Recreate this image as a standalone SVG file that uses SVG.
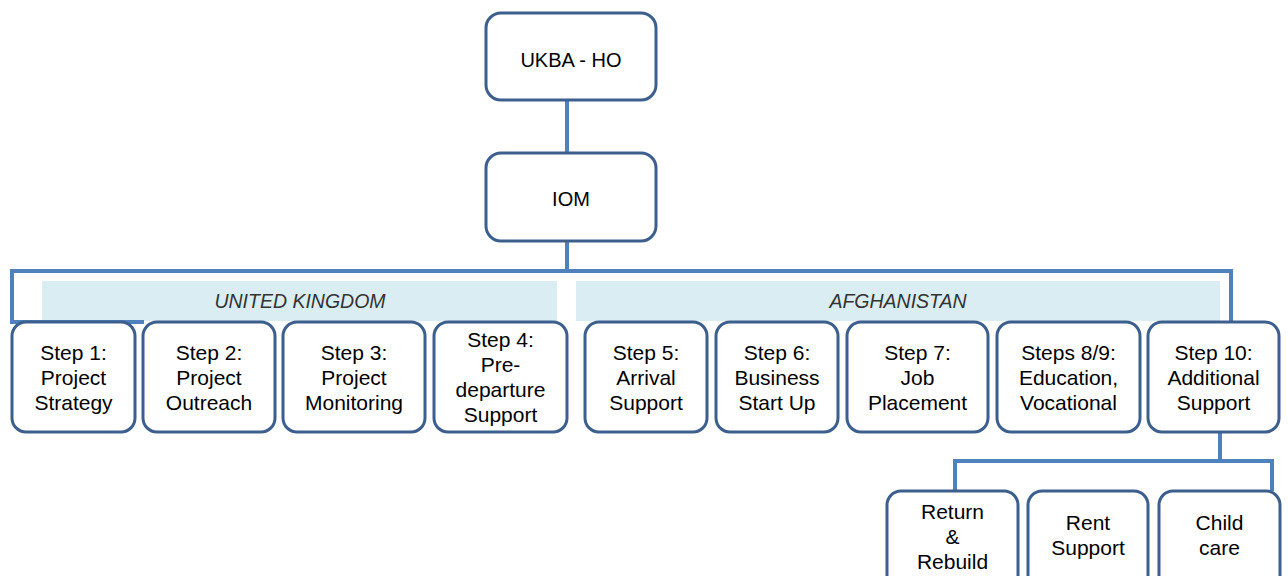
<svg xmlns="http://www.w3.org/2000/svg" width="1288" height="576" viewBox="0 0 1288 576">
<style>
.box{fill:#fff;stroke:#3D5F8D;stroke-width:3}
.con{fill:none;stroke:#4F81BD;stroke-width:4}
.band{fill:#DAEDF3}
.t{font-family:"Liberation Sans",Arial,sans-serif;font-size:21px;fill:#000;text-anchor:middle}
.tt{font-family:"Liberation Sans",Arial,sans-serif;font-size:20px;fill:#000;text-anchor:middle}
.lab{font-family:"Liberation Sans",Arial,sans-serif;font-size:19.5px;font-style:italic;fill:#333;text-anchor:middle}
</style>
<rect width="1288" height="576" fill="#fff"/>
<g id="bands">
<rect class="band" x="42" y="281" width="515" height="40"/>
<text class="lab" x="300" y="308">UNITED KINGDOM</text>
<rect class="band" x="576" y="281" width="644" height="40"/>
<text class="lab" x="898" y="308">AFGHANISTAN</text>
</g>
<g id="connectors">
<path class="con" d="M567,100 V152"/>
<path class="con" d="M567,241 V271"/>
<path class="con" d="M144,322 H12 V271 H1231 V322"/>
<path class="con" d="M1220,432 V461"/>
<path class="con" d="M955,491 V461 H1272 V491"/>
</g>
<g id="ukba"><rect class="box" x="486" y="13" width="170" height="87" rx="15"/><text class="tt" x="571" y="67">UKBA - HO</text></g>
<g id="iom"><rect class="box" x="486" y="153" width="170" height="88" rx="15"/><text class="tt" x="571" y="206">IOM</text></g>
<g id="step1"><rect class="box" x="12" y="322" width="123" height="110" rx="14"/><text class="t" x="73.5" y="360">Step 1:</text><text class="t" x="73.5" y="385">Project</text><text class="t" x="73.5" y="410">Strategy</text></g>
<g id="step2"><rect class="box" x="143" y="322" width="132" height="110" rx="14"/><text class="t" x="209" y="360">Step 2:</text><text class="t" x="209" y="385">Project</text><text class="t" x="209" y="410">Outreach</text></g>
<g id="step3"><rect class="box" x="283" y="322" width="142" height="110" rx="14"/><text class="t" x="354" y="360">Step 3:</text><text class="t" x="354" y="385">Project</text><text class="t" x="354" y="410">Monitoring</text></g>
<g id="step4"><rect class="box" x="434" y="322" width="133" height="110" rx="14"/><text class="t" x="500.5" y="347">Step 4:</text><text class="t" x="500.5" y="372">Pre-</text><text class="t" x="500.5" y="397">departure</text><text class="t" x="500.5" y="422">Support</text></g>
<g id="step5"><rect class="box" x="585" y="322" width="122" height="110" rx="14"/><text class="t" x="646" y="360">Step 5:</text><text class="t" x="646" y="385">Arrival</text><text class="t" x="646" y="410">Support</text></g>
<g id="step6"><rect class="box" x="716" y="322" width="122" height="110" rx="14"/><text class="t" x="777" y="360">Step 6:</text><text class="t" x="777" y="385">Business</text><text class="t" x="777" y="410">Start Up</text></g>
<g id="step7"><rect class="box" x="847" y="322" width="141" height="110" rx="14"/><text class="t" x="917.5" y="360">Step 7:</text><text class="t" x="917.5" y="385">Job</text><text class="t" x="917.5" y="410">Placement</text></g>
<g id="step89"><rect class="box" x="997" y="322" width="143" height="110" rx="14"/><text class="t" x="1068.5" y="360">Steps 8/9:</text><text class="t" x="1068.5" y="385">Education,</text><text class="t" x="1068.5" y="410">Vocational</text></g>
<g id="step10"><rect class="box" x="1148" y="322" width="131" height="110" rx="14"/><text class="t" x="1213.5" y="360">Step 10:</text><text class="t" x="1213.5" y="385">Additional</text><text class="t" x="1213.5" y="410">Support</text></g>
<g id="return"><rect class="box" x="887" y="491" width="131" height="110" rx="14"/><text class="t" x="952.5" y="519">Return</text><text class="t" x="952.5" y="544">&amp;</text><text class="t" x="952.5" y="569">Rebuild</text></g>
<g id="rent"><rect class="box" x="1028" y="491" width="120" height="110" rx="14"/><text class="t" x="1088" y="530">Rent</text><text class="t" x="1088" y="555">Support</text></g>
<g id="childcare"><rect class="box" x="1159" y="491" width="121" height="110" rx="14"/><text class="t" x="1219.5" y="530">Child</text><text class="t" x="1219.5" y="555">care</text></g>
</svg>
